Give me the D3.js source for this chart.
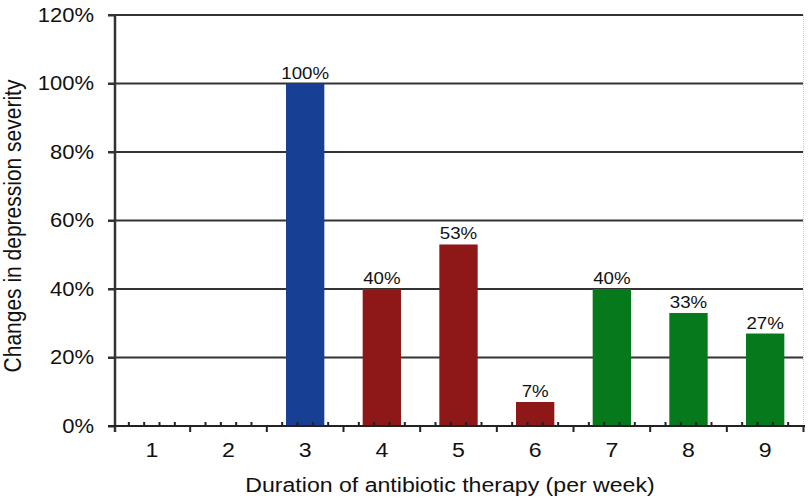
<!DOCTYPE html>
<html>
<head>
<meta charset="utf-8">
<script src="https://cdn.jsdelivr.net/npm/d3@7"></script>
<style>
  body { margin: 0; background: #fff; }
  text { font-family: "Liberation Sans", Arial, sans-serif; fill: #111; }
</style>
</head>
<body>
<svg id="chart" width="810" height="503"></svg>
<script>
// chart data
const weeks = ["1", "2", "3", "4", "5", "6", "7", "8", "9"];
const values = [0, 0, 100, 40, 53, 7, 40, 33, 27];
const labels = ["", "", "100%", "40%", "53%", "7%", "40%", "33%", "27%"];
const groups = ["none", "none", "blue", "red", "red", "red", "green", "green", "green"];
const yTicks = [0, 20, 40, 60, 80, 100, 120];

const colors = { blue: "#173f93", red: "#8e1718", green: "#05791b", none: "none" };

const svg = d3.select("#chart");
const mLeft = 115, mRight = 803, mTop = 15, mBottom = 426;
const stretch = 1.1; // the original's text is slightly wide

const x = d3.scaleBand().domain(weeks).range([mLeft - 1.5, mRight + 0.5]).paddingInner(0).paddingOuter(0);
const y = d3.scaleLinear().domain([0, 120]).range([mBottom, mTop]);

// gridlines
svg.append("g")
  .selectAll("line")
  .data(yTicks.filter(d => d > 0))
  .enter()
  .append("line")
  .attr("x1", mLeft - 7)
  .attr("x2", mRight)
  .attr("y1", d => y(d))
  .attr("y2", d => y(d))
  .attr("stroke", "#333")
  .attr("stroke-width", 2);

// faint right border
svg.append("line")
  .attr("x1", mRight + 0.5).attr("x2", mRight + 0.5)
  .attr("y1", mTop).attr("y2", mBottom)
  .attr("stroke", "#ccc")
  .attr("stroke-dasharray", "1,1");

// bars
svg.append("g")
  .selectAll("rect")
  .data(weeks.map((w, i) => ({ w, v: values[i], g: groups[i] })).filter(d => d.v > 0))
  .enter()
  .append("rect")
  .attr("x", d => x(d.w) + x.bandwidth() * 0.25)
  .attr("width", x.bandwidth() * 0.5)
  .attr("y", d => y(d.v))
  .attr("height", d => y(0) - y(d.v))
  .attr("fill", d => colors[d.g]);

// value labels
svg.append("g")
  .selectAll("text")
  .data(weeks.map((w, i) => ({ w, v: values[i], t: labels[i] })).filter(d => d.t))
  .enter()
  .append("text")
  .attr("transform", d => `translate(${x(d.w) + x.bandwidth() / 2},${y(d.v) - 5}) scale(${stretch},1)`)
  .attr("text-anchor", "middle")
  .attr("font-size", 17)
  .text(d => d.t);

// y axis
const yAxis = svg.append("g")
  .attr("transform", `translate(${mLeft},0)`)
  .call(d3.axisLeft(y).tickValues(yTicks).tickFormat(d => d + "%").tickSize(7).tickPadding(14));
yAxis.select(".domain").attr("stroke", "#333").attr("stroke-width", 2.5).attr("d", `M0,${mTop}V${mBottom + 6}`);
yAxis.selectAll(".tick line").attr("stroke", "#333").attr("stroke-width", 2);
yAxis.selectAll(".tick text")
  .attr("font-size", 20)
  .attr("font-family", "Liberation Sans, Arial, sans-serif")
  .attr("fill", "#111")
  .attr("transform", `translate(-21,0) scale(${stretch},1) translate(21,0)`);

// x axis line
svg.append("line")
  .attr("x1", mLeft - 7).attr("x2", mRight + 2)
  .attr("y1", mBottom).attr("y2", mBottom)
  .attr("stroke", "#222").attr("stroke-width", 2);

// major ticks at category boundaries (downward)
const bounds = weeks.map(w => x(w)).concat([x(weeks[weeks.length - 1]) + x.bandwidth()]);
svg.append("g")
  .selectAll("line")
  .data(bounds.slice(1))
  .enter()
  .append("line")
  .attr("x1", d => d).attr("x2", d => d)
  .attr("y1", mBottom).attr("y2", mBottom + 6)
  .attr("stroke", "#222").attr("stroke-width", 2);

// minor ticks (upward), 4 per category
const minor = [];
weeks.forEach(w => {
  for (let k = 1; k < 5; k++) minor.push(x(w) + x.bandwidth() * k / 5);
});
svg.append("g")
  .selectAll("line")
  .data(minor)
  .enter()
  .append("line")
  .attr("x1", d => d).attr("x2", d => d)
  .attr("y1", mBottom).attr("y2", mBottom - 4)
  .attr("stroke", "#222").attr("stroke-width", 2);

// x labels
svg.append("g")
  .selectAll("text")
  .data(weeks)
  .enter()
  .append("text")
  .attr("transform", d => `translate(${x(d) + x.bandwidth() / 2},${mBottom + 31}) scale(${stretch},1)`)
  .attr("text-anchor", "middle")
  .attr("font-size", 21)
  .text(d => d);

// axis titles
svg.append("text")
  .attr("transform", `translate(450,492) scale(${stretch},1)`)
  .attr("text-anchor", "middle")
  .attr("font-size", 21)
  .text("Duration of antibiotic therapy (per week)");

svg.append("text")
  .attr("transform", `translate(21,226) scale(${stretch},1) rotate(-90)`)
  .attr("text-anchor", "middle")
  .attr("font-size", 21)
  .text("Changes in depression severity");
</script>
</body>
</html>
